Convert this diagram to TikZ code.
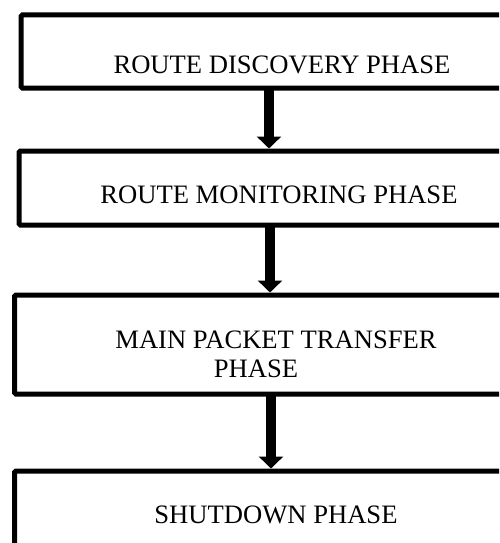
\documentclass[tikz,border=0pt]{standalone}
\usepackage{fontspec}
\setmainfont{Liberation Serif}
\usetikzlibrary{arrows.meta}
\begin{document}
\begin{tikzpicture}[x=1pt,y=-1pt,
  box/.style={draw=black,line width=5pt,rounded corners=1.5pt,rectangle,anchor=north west,inner sep=0pt,outer sep=0pt},
  lbl/.style={anchor=base,inner sep=0pt,font=\fontsize{26.6}{30}\selectfont},
  arr/.style={line width=10pt,-{Triangle[width=24pt,length=12pt]},shorten >=2.5pt}]
\useasboundingbox[fill=white] (0,0) rectangle (499,543);
\begin{scope}
\clip (0,0) rectangle (499,543);
\node[box,minimum width=510pt,minimum height=73pt] (b1) at (21,15) {};
\node[box,minimum width=512pt,minimum height=74pt] (b2) at (19,151) {};
\node[box,minimum width=516pt,minimum height=99pt] (b3) at (14.5,295) {};
\node[box,minimum width=516pt,minimum height=80pt] (b4) at (14.5,471) {};
\end{scope}
\node[lbl] (t1) at (282,74) {ROUTE DISCOVERY PHASE};
\node[lbl] (t2) at (279,203) {ROUTE MONITORING PHASE};
\node[lbl] (t3) at (276,348) {MAIN PACKET TRANSFER};
\node[lbl] (t3b) at (256,377) {PHASE};
\node[lbl] (t4) at (276,523) {SHUTDOWN PHASE};
\coordinate (c1) at (269,0);
\coordinate (c2) at (270,0);
\coordinate (c3) at (271,0);
\draw[arr] (b1.south -| c1) -- (b2.north -| c1);
\draw[arr] (b2.south -| c2) -- (b3.north -| c2);
\draw[arr] (b3.south -| c3) -- (b4.north -| c3);
\end{tikzpicture}
\end{document}
